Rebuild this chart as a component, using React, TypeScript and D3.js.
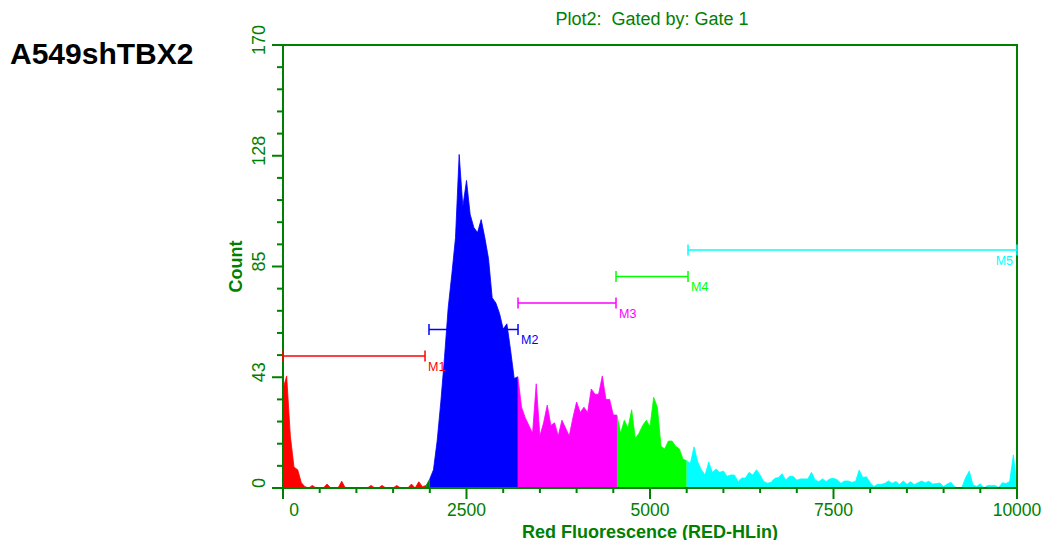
import React from 'react';
import * as d3 from 'd3';

// histogram counts, one value per channel (channel step 50, 0..10000)
const CHANNEL_STEP = 50;
const COUNTS = [
  38, 43, 20, 8, 7, 2, 0.5, 0, 1, 0,
  0, 0, 1.5, 0, 0, 0, 2.6, 0, 0, 0,
  0, 0, 0, 0, 1, 0, 0, 1, 0, 0,
  0, 1, 0, 0, 0, 1.5, 0, 2.4, 0.5, 1,
  3.5, 7, 18, 33, 50, 69, 82, 96, 128, 108,
  118, 105, 100, 98, 103, 96, 88, 73, 71, 67,
  61, 63, 53, 42, 42.7, 31, 27, 24, 21, 40,
  20, 25, 31.8, 24, 25, 20, 26, 23, 20, 27,
  33, 29, 31, 29, 38, 36, 36, 43, 34, 34,
  28, 28, 21, 26, 23, 30, 19, 21, 24, 26,
  23.5, 34.8, 31, 16, 15, 18, 18, 16, 15, 11,
  10.5, 9.5, 15.8, 10, 7, 5, 10, 6, 7.3, 6,
  6.5, 4.5, 5, 5, 2.5, 3.8, 3.8, 6, 5, 7,
  5, 2.5, 1.8, 2.2, 3.7, 4, 5.5, 3, 4.5, 4.5,
  3, 3.5, 3.5, 3.5, 6, 3, 2.5, 3.5, 2.5, 3.5,
  3.7, 3.2, 1.8, 2.7, 2.7, 2.2, 2.5, 6.9, 4, 4.3,
  2, 0.6, 1.4, 1.4, 1.8, 2.7, 1.8, 2.5, 1.3, 2.7,
  1.4, 2.4, 1.3, 2, 2.7, 2, 2.6, 1.5, 1.7, 1.9,
  0.6, 1.5, 2.2, 0.5, 0, 0.3, 4, 6.5, 1.2, 0.6,
  1.6, 0, 1, 1, 1, 0.2, 2, 1.7, 2.5, 12.7, 1,
];

// gate markers (channel ranges)
const MARKER_NAMES = ['M1', 'M2', 'M3', 'M4', 'M5'];
const MARKER_START = [0, 1989, 3202, 4537, 5518];
const MARKER_END = [1935, 3202, 4537, 5518, 10000];
const MARKER_COLORS = ['#ff0000', '#0000ff', '#ff00ff', '#00ff00', '#00ffff'];
const GAP_COLOR = '#008000';

const X_TICKS = [0, 2500, 5000, 7500, 10000];
const Y_TICKS = [0, 42.5, 85, 127.5, 170];
const Y_TICK_LABELS = ['0', '43', '85', '128', '170'];

const AXIS = '#008000';
const FONT = '"Liberation Sans", Arial, sans-serif';

type Pt = { ch: number; c: number };

export default function App() {
  const width = 1048;
  const height = 540;
  const x = d3.scaleLinear().domain([0, 10000]).range([283, 1017]);
  const y = d3.scaleLinear().domain([0, 170]).range([488, 45]);

  const pts: Pt[] = COUNTS.map((c, i) => ({ ch: i * CHANNEL_STEP, c }));

  const colorAt = (v: number) => {
    const k = MARKER_NAMES.findIndex((_, i) => v >= MARKER_START[i] && v < MARKER_END[i]);
    return k < 0 ? GAP_COLOR : MARKER_COLORS[k];
  };

  // group consecutive segments with the same colour into runs
  const runs: { color: string; pts: Pt[] }[] = [];
  for (let i = 0; i < pts.length - 1; i++) {
    const col = colorAt((pts[i].ch + pts[i + 1].ch) / 2);
    const last = runs[runs.length - 1];
    if (last && last.color === col) last.pts.push(pts[i + 1]);
    else runs.push({ color: col, pts: [pts[i], pts[i + 1]] });
  }

  const area = d3.area<Pt>()
    .x(d => x(d.ch))
    .y0(y(0))
    .y1(d => y(d.c));
  const topLine = d3.line<Pt>()
    .x(d => x(d.ch))
    .y(d => y(d.c));

  const minorX = d3.range(0, 10001, 500);
  const minorY = d3.range(0, 170.01, 8.5);

  const [x0, x1] = x.range();
  const [yb, yt] = y.range();

  return (
    <div style={{ position: 'absolute', left: 0, top: 0 }}>
      <svg width={width} height={height} style={{ display: 'block', background: '#fff' }}>
        <text x={10} y={64} fontFamily={FONT} fontWeight="bold" fontSize={30} fill="#000">
          A549shTBX2
        </text>

        <text x={(x0 + x1) / 2 + 2} y={25} textAnchor="middle" fontFamily={FONT} fontSize={18} fill={AXIS}
          style={{ whiteSpace: 'pre' }}>
          {'Plot2:  Gated by: Gate 1'}
        </text>

        {/* histogram */}
        {runs.map((r, i) => (
          <g key={i}>
            <path d={area(r.pts) || ''} fill={r.color} />
            <path d={topLine(r.pts) || ''} fill="none" stroke={r.color} strokeWidth={0.8} />
          </g>
        ))}

        {/* frame */}
        <rect x={x0} y={yt} width={x1 - x0} height={yb - yt} fill="none" stroke={AXIS} strokeWidth={2} />

        {/* x ticks */}
        {minorX.map(v => {
          const major = X_TICKS.includes(v);
          return <line key={v} x1={x(v)} x2={x(v)} y1={yb} y2={yb + (major ? 11 : 5)} stroke={AXIS} strokeWidth={2} />;
        })}
        {X_TICKS.map(v => (
          <text key={v} x={Math.max(x(v), x0 + 11)} y={516} textAnchor="middle" fontFamily={FONT} fontSize={17.5} fill={AXIS}>
            {v}
          </text>
        ))}

        {/* y ticks */}
        {minorY.map((v, i) => {
          const major = i % 5 === 0;
          return <line key={v} x1={x0 - (major ? 11 : 6)} x2={x0} y1={y(v)} y2={y(v)} stroke={AXIS} strokeWidth={2} />;
        })}
        {Y_TICKS.map((v, i) => (
          <text key={v} transform={`translate(265,${y(v) - 5}) rotate(-90)`} textAnchor="middle"
            fontFamily={FONT} fontSize={18} fill={AXIS}>
            {Y_TICK_LABELS[i]}
          </text>
        ))}

        <text x={(x0 + x1) / 2} y={537.5} textAnchor="middle" fontFamily={FONT} fontWeight="bold" fontSize={18} fill={AXIS}>
          Red Fluorescence (RED-HLin)
        </text>
        <text transform={`translate(242,${(yb + yt) / 2}) rotate(-90)`} textAnchor="middle"
          fontFamily={FONT} fontWeight="bold" fontSize={18} fill={AXIS}>
          Count
        </text>

        {/* markers */}
        {MARKER_NAMES.map((name, i) => {
          const my = 356 - i * 26.5;
          const a = x(MARKER_START[i]);
          const b = x(MARKER_END[i]);
          const col = MARKER_COLORS[i];
          const last = i === MARKER_NAMES.length - 1;
          return (
            <g key={name}>
              <line x1={a} x2={b} y1={my} y2={my} stroke={col} strokeWidth={1.5} />
              <line x1={a} x2={a} y1={my - 5.5} y2={my + 5.5} stroke={col} strokeWidth={1.5} />
              <line x1={b} x2={b} y1={my - 5.5} y2={my + 5.5} stroke={col} strokeWidth={1.5} />
              <text x={last ? b - 4 : b + 3} y={my + 14.5} textAnchor={last ? 'end' : 'start'}
                fontFamily={FONT} fontSize={12.5} fill={col}>
                {name}
              </text>
            </g>
          );
        })}
      </svg>
    </div>
  );
}
